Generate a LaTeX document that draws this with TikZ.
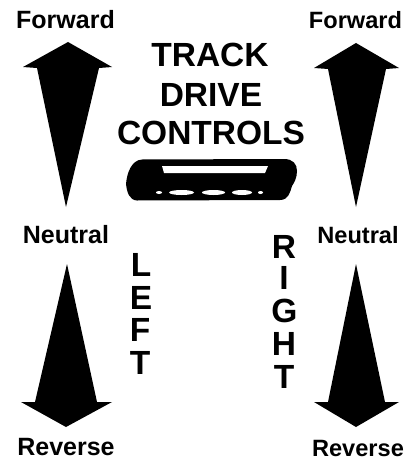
\documentclass[tikz,border=0pt]{standalone}
\usepackage{fontspec}
\setmainfont{Liberation Sans}
\begin{document}
\begin{tikzpicture}[x=1pt,y=-1pt,
 lbl/.style={font=\fontsize{25}{26}\bfseries\selectfont,inner sep=0pt,anchor=center},
 lblr/.style={font=\fontsize{23.6}{25}\bfseries\selectfont,inner sep=0pt,anchor=center},
 ttl/.style={font=\fontsize{33.5}{34}\bfseries\selectfont,inner sep=0pt,anchor=center},
 vert/.style={font=\fontsize{33.5}{34}\bfseries\selectfont,inner sep=0pt,anchor=center},
 arrow/.style={fill=black,draw=none}]
\useasboundingbox (0,0) rectangle (411,460);
\fill[white] (0,0) rectangle (411,460);
\node[lbl] (f1) at (65.5,20) {Forward};
\node[lblr] (f2) at (355.5,20) {Forward};
\node[lbl] (n1) at (66,235) {Neutral};
\node[lblr] (n2) at (358,235) {Neutral};
\node[lbl] (r1) at (66,447.2) {Reverse};
\node[lblr] (r2) at (358,448) {Reverse};
\node[ttl] (t1) at (210,55) {TRACK};
\node[ttl] (t2) at (211,95) {DRIVE};
\node[ttl] (t3) at (211,132.5) {CONTROLS};
% arrows
\fill[arrow] (68,42) -- (112,67) -- (99,68) -- (66,207) -- (37,68) -- (23,67) -- cycle;
\fill[arrow] (356,43) -- (399,68) -- (386,69) -- (356,207) -- (328,69) -- (314,68) -- cycle;
\fill[arrow] (67,264) -- (97,402) -- (112,402) -- (66,427) -- (21,402) -- (35,402) -- cycle;
\fill[arrow] (356,264) -- (385,402) -- (399,402) -- (356,427) -- (314,402) -- (328,402) -- cycle;
% track
\fill[black] (142,159.5) -- (284,159) .. controls (293,159) and (297,164) .. (297,171)
  .. controls (297,178) and (294,183) .. (292,186)
  .. controls (290,193) and (288,200) .. (280,200) -- (137,200.5)
  .. controls (129,200) and (127,192) .. (126,184)
  .. controls (127,172) and (132,160) .. (142,159.5) -- cycle;
\fill[white] (162,166) -- (268,166) -- (265,173) -- (164,173) -- cycle;
\fill[white] (159,192.5) ellipse (3 and 1.5);
\fill[white] (181.5,192.5) ellipse (12.5 and 2.5);
\fill[white] (213.5,192.5) ellipse (11.5 and 2.5);
\fill[white] (242,192.5) ellipse (10 and 2.5);
\fill[white] (260.5,192.5) ellipse (2.5 and 1.5);
% LEFT
\node[vert] (l1) at (141,265) {L};
\node[vert] (l2) at (141,298) {E};
\node[vert] (l3) at (140,330) {F};
\node[vert] (l4) at (140,363) {T};
% RIGHT
\node[vert] (g1) at (284,246.5) {R};
\node[vert] (g2) at (284,278) {I};
\node[vert] (g3) at (284.5,310.5) {G};
\node[vert] (g4) at (284,344) {H};
\node[vert] (g5) at (284,377) {T};
\end{tikzpicture}
\end{document}
